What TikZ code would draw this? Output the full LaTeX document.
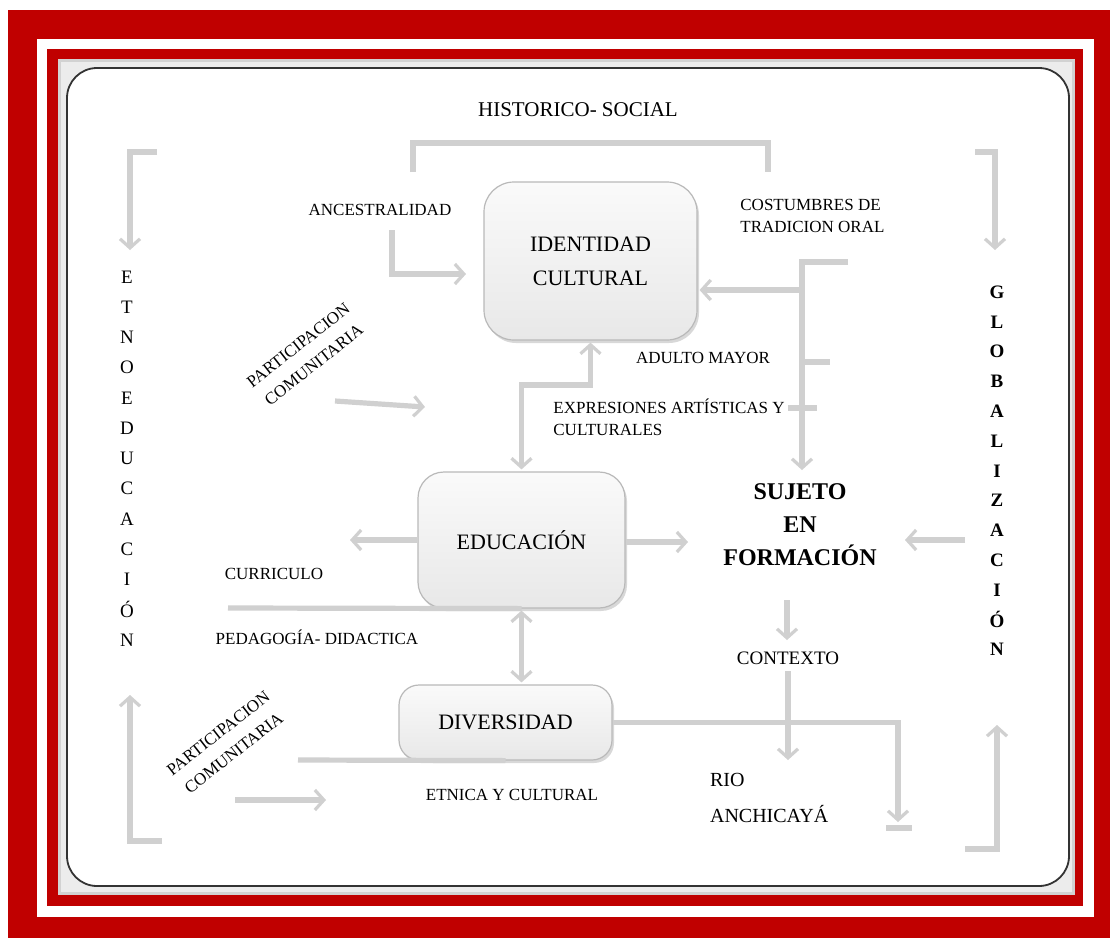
\documentclass[tikz,border=0pt]{standalone}
\usepackage{fontspec}
\setmainfont{Liberation Serif}
\definecolor{framered}{HTML}{C00000}
\definecolor{linegray}{HTML}{D0D0D0}
\definecolor{boxgray}{HTML}{E8E8E8}
\usetikzlibrary{arrows.meta, shadows, calc}

\begin{document}
\begin{tikzpicture}[x=0.5pt, y=-0.5pt,
    conn/.style={line width=2.6pt, color=linegray},
    arr/.style={conn, -{Straight Barb[length=4.5pt, width=10pt, line width=1.6pt]}},
    darr/.style={conn, {Straight Barb[length=4.5pt, width=10pt, line width=1.6pt]}-{Straight Barb[length=4.5pt, width=10pt, line width=1.6pt]}},
    box/.style={draw=gray!55, line width=0.6pt, top color=gray!4, bottom color=boxgray,
      drop shadow={opacity=0.3, shadow xshift=1pt, shadow yshift=-1.5pt},
      align=center, font=\fontsize{11}{17}\selectfont},
    lbl/.style={font=\fontsize{8.5}{11}\selectfont, inner sep=1pt},
    partlbl/.style={font=\fontsize{8.5}{12.5}\selectfont, rotate=38, align=center, inner sep=0pt}]
  \useasboundingbox (0,0) rectangle (1110,938);

  % Frame
  \fill[framered] (8,10) rectangle (1110,938);
  \fill[white] (37,39) rectangle (1094,917);
  \fill[framered] (47,49) rectangle (1083,906);
  \fill[gray!35] (58,59) rectangle (1075,895);
  \fill[gray!15] (61,62) rectangle (1072,892);
  \draw[black!80, line width=0.9pt, fill=white, rounded corners=15pt] (67,68) rectangle (1069,886);

  % Boxes
  \node[box, rounded corners=15pt, minimum width=106.5pt, minimum height=79pt] (idc) at (590.5,261) {IDENTIDAD\\CULTURAL};
  \node[box, rounded corners=13pt, minimum width=103.5pt, minimum height=68pt] (edu) at (521.5,540) {EDUCACIÓN};
  \node[box, rounded corners=10pt, minimum width=106.5pt, minimum height=37.5pt] (div) at (505.5,722.5) {DIVERSIDAD};

  % Labels
  \node[font=\fontsize{10.5}{12}\selectfont] (hist) at (578,110) {HISTORICO- SOCIAL};
  \node[lbl] (ances) at (380,210) {ANCESTRALIDAD};
  \node[lbl, anchor=west, align=left] (cost) at (738,216) {COSTUMBRES DE\\TRADICION ORAL};
  \node[lbl] (adult) at (703,358) {ADULTO MAYOR};
  \node[lbl, anchor=west, align=left] (expr) at (551,417) {EXPRESIONES ARTÍSTICAS Y\\CULTURALES};
  \node[partlbl] (part1) at (306,355) {PARTICIPACION\\COMUNITARIA};
  \node[partlbl] (part2) at (226,743) {PARTICIPACION\\COMUNITARIA};
  \node[lbl] (curr) at (274,574) {CURRICULO};
  \node[lbl] (peda) at (317,637) {PEDAGOGÍA- DIDACTICA};
  \node[lbl] (etni) at (512,795) {ETNICA Y CULTURAL};
  \node[font=\bfseries\fontsize{12}{16.5}\selectfont, align=center] (suj) at (800,525) {SUJETO\\EN\\FORMACIÓN};
  \node[font=\fontsize{9.5}{11}\selectfont] (ctx) at (788,658) {CONTEXTO};
  \node[font=\fontsize{10}{18}\selectfont, anchor=west, align=left] (rio) at (703,798) {RIO\\ANCHICAYÁ};

  % Side words
  \foreach \l [count=\i from 0] in {E,T,N,O,E,D,U,C,A,C,I,Ó,N}
    \node[font=\fontsize{9.5}{11}\selectfont, inner sep=0pt] (etno\i) at (127,{277+30.25*\i}) {\l};
  \foreach \l [count=\i from 0] in {G,L,O,B,A,L,I,Z,A,C,I,Ó,N}
    \node[font=\bfseries\fontsize{9.5}{11}\selectfont, inner sep=0pt] (glob\i) at (997,{292+29.8*\i}) {\l};

  % Historico-social bracket
  \coordinate (hs1) at (413,172);
  \coordinate (hs2) at (413,143);
  \coordinate (hs3) at (768,143);
  \coordinate (hs4) at (768,172);
  \draw[conn] (hs1) -- (hs2) -- (hs3) -- (hs4);

  % Ancestralidad
  \coordinate (an1) at (392,230);
  \coordinate (an2) at (466,274);
  \draw[arr] (an1) |- (an2);

  % Costumbres / adulto mayor / expresiones
  \coordinate (co1) at (848,262);
  \coordinate (co2) at (802,262);
  \coordinate (co3) at (802,470);
  \coordinate (co4) at (802,290);
  \draw[arr] (co1) -- (co2) -- (co3);
  \draw[arr, shorten >=1pt] (co4) -- (co4 -| idc.east);
  \coordinate (ad1) at (802,362);
  \coordinate (ad2) at (830,362);
  \draw[conn] (ad1) -- (ad2);
  \coordinate (ex1) at (788,408);
  \coordinate (ex2) at (817,408);
  \draw[conn] (ex1) -- (ex2);

  % Identidad - educacion
  \coordinate (ie) at (590.5,385);
  \draw[darr, shorten <=1pt, shorten >=1pt] (edu.north) |- (ie) -- (idc.south);

  % Participacion comunitaria
  \coordinate (pa1) at (335,401);
  \coordinate (pa2) at (425,407);
  \draw[arr] (pa1) -- (pa2);
  \coordinate (pb1) at (235,800);
  \coordinate (pb2) at (326,800);
  \draw[arr] (pb1) -- (pb2);

  % Educacion
  \coordinate (ed1) at (350,540);
  \coordinate (ed2) at (688,542);
  \draw[arr] (edu.west) -- (ed1);
  \draw[arr] (edu.east |- ed2) -- (ed2);
  \coordinate (cu1) at (228,608);
  \draw[conn] (cu1) -- (edu.south);
  \draw[darr, shorten <=1pt, shorten >=1pt] (edu.south) -- (edu.south |- div.north);

  % Diversidad
  \coordinate (dv1) at (898,822);
  \draw[arr] (div.east) -| (dv1);
  \coordinate (dv2) at (886,828);
  \coordinate (dv3) at (912,828);
  \draw[conn] (dv2) -- (dv3);
  \coordinate (dv4) at (298,760);
  \draw[conn] (dv4) -- (div.south);

  % Sujeto en formacion / contexto
  \coordinate (gl1) at (965,540);
  \coordinate (gl2) at (905,540);
  \draw[arr] (gl1) -- (gl2);
  \coordinate (sf1) at (787,600);
  \coordinate (sf2) at (787,640);
  \draw[arr] (sf1) -- (sf2);
  \coordinate (rc) at (788,760);
  \draw[arr] (ctx.south) -- (rc);

  % Side brackets
  \coordinate (lt1) at (157,152);
  \coordinate (lt2) at (130,152);
  \coordinate (lt3) at (130,250);
  \draw[arr] (lt1) -- (lt2) -- (lt3);
  \coordinate (lb1) at (162,841);
  \coordinate (lb2) at (130,841);
  \coordinate (lb3) at (130,695);
  \draw[arr] (lb1) -- (lb2) -- (lb3);
  \coordinate (rt1) at (975,152);
  \coordinate (rt2) at (995,152);
  \coordinate (rt3) at (995,250);
  \draw[arr] (rt1) -- (rt2) -- (rt3);
  \coordinate (rb1) at (965,849);
  \coordinate (rb2) at (997,849);
  \coordinate (rb3) at (997,725);
  \draw[arr] (rb1) -- (rb2) -- (rb3);
\end{tikzpicture}
\end{document}
